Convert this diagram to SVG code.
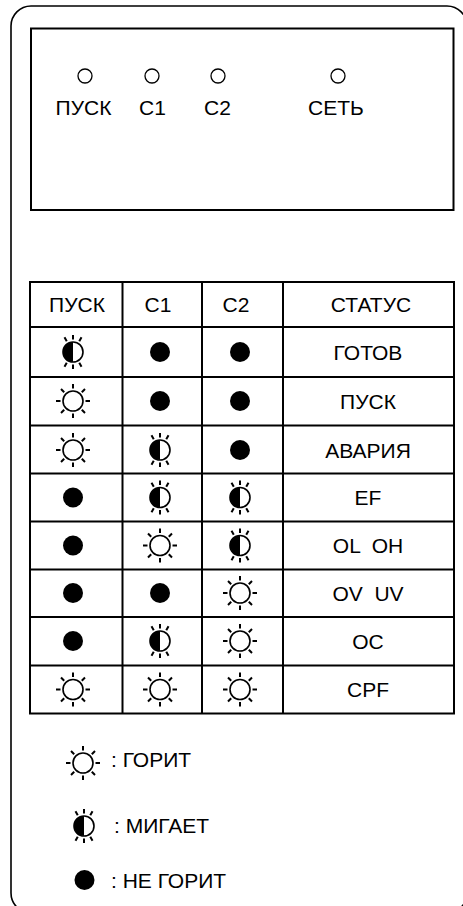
<svg xmlns="http://www.w3.org/2000/svg" width="463" height="906" viewBox="0 0 463 906">
<style>
text{font-family:"Liberation Sans",Arial,sans-serif;font-size:21px;fill:#000}
.c{text-anchor:middle}
.ln{stroke:#000;stroke-width:2;fill:none}
.ray{stroke:#000;stroke-width:2;stroke-linecap:butt}
</style>
<defs>
<g id="sun">
<circle r="10" fill="#fff" stroke="#000" stroke-width="1.6"/>
<g class="ray">
<line x1="12.5" y1="0" x2="17" y2="0"/>
<line x1="-12.5" y1="0" x2="-17" y2="0"/>
<line x1="0" y1="12.5" x2="0" y2="17"/>
<line x1="0" y1="-12.5" x2="0" y2="-17"/>
<line x1="8.8" y1="8.8" x2="12" y2="12"/>
<line x1="-8.8" y1="8.8" x2="-12" y2="12"/>
<line x1="8.8" y1="-8.8" x2="12" y2="-12"/>
<line x1="-8.8" y1="-8.8" x2="-12" y2="-12"/>
</g>
</g>
<g id="blink">
<circle r="10" fill="#fff"/>
<path d="M0,-10 A10,10 0 0 0 0,10 Z" fill="#000"/>
<circle r="10" fill="none" stroke="#000" stroke-width="1.6"/>
<g class="ray">
<line x1="0" y1="12.5" x2="0" y2="17"/>
<line x1="0" y1="-12.5" x2="0" y2="-17"/>
<line x1="6.25" y1="10.8" x2="8.5" y2="14.7"/>
<line x1="-6.25" y1="10.8" x2="-8.5" y2="14.7"/>
<line x1="6.25" y1="-10.8" x2="8.5" y2="-14.7"/>
<line x1="-6.25" y1="-10.8" x2="-8.5" y2="-14.7"/>
</g>
</g>
<circle id="dot" r="10" fill="#000"/>
<circle id="led" r="7" fill="none" stroke="#000" stroke-width="1.3"/>
</defs>
<rect width="463" height="906" fill="#fff"/>
<g id="frame">
<rect x="11" y="6" width="456" height="907" rx="20" ry="20" class="ln" style="stroke-width:1.6"/>
</g>
<g id="display">
<rect x="31" y="28.5" width="422.5" height="181.5" class="ln"/>
<use href="#led" x="85" y="76"/>
<use href="#led" x="152" y="76"/>
<use href="#led" x="218" y="76"/>
<use href="#led" x="338" y="76"/>
<text x="83.5" y="115" class="c">ПУСК</text>
<text x="152.5" y="115" class="c">С1</text>
<text x="217.5" y="115" class="c">С2</text>
<text x="336" y="115" class="c">СЕТЬ</text>
</g>
<g id="table">
<rect x="30" y="282" width="424" height="431.5" class="ln"/>
<g class="ln">
<line x1="122.5" y1="282" x2="122.5" y2="713.5"/>
<line x1="202" y1="282" x2="202" y2="713.5"/>
<line x1="283" y1="282" x2="283" y2="713.5"/>
<line x1="30" y1="327" x2="454" y2="327"/>
<line x1="30" y1="377" x2="454" y2="377"/>
<line x1="30" y1="425.5" x2="454" y2="425.5"/>
<line x1="30" y1="473.5" x2="454" y2="473.5"/>
<line x1="30" y1="521.5" x2="454" y2="521.5"/>
<line x1="30" y1="569.5" x2="454" y2="569.5"/>
<line x1="30" y1="617" x2="454" y2="617"/>
<line x1="30" y1="665.5" x2="454" y2="665.5"/>
</g>
<text x="77" y="312" class="c">ПУСК</text>
<text x="158" y="312" class="c">С1</text>
<text x="236" y="312" class="c">С2</text>
<text x="371" y="312" class="c">СТАТУС</text>
</g>
<g id="row1">
<use href="#blink" x="73" y="352"/><use href="#dot" x="160" y="352"/><use href="#dot" x="240" y="352"/>
<text x="368" y="359.5" class="c">ГОТОВ</text>
</g>
<g id="row2">
<use href="#sun" x="73" y="401"/><use href="#dot" x="160" y="401"/><use href="#dot" x="240" y="401"/>
<text x="368" y="408.5" class="c">ПУСК</text>
</g>
<g id="row3">
<use href="#sun" x="73" y="450"/><use href="#blink" x="160" y="450"/><use href="#dot" x="240" y="450"/>
<text x="368" y="457.5" class="c">АВАРИЯ</text>
</g>
<g id="row4">
<use href="#dot" x="73" y="497.5"/><use href="#blink" x="160" y="497.5"/><use href="#blink" x="240" y="497.5"/>
<text x="368" y="505" class="c">EF</text>
</g>
<g id="row5">
<use href="#dot" x="73" y="545.5"/><use href="#sun" x="160" y="545.5"/><use href="#blink" x="240" y="545.5"/>
<text x="368" y="553" class="c" xml:space="preserve">OL  OH</text>
</g>
<g id="row6">
<use href="#dot" x="73" y="593"/><use href="#dot" x="160" y="593"/><use href="#sun" x="240" y="593"/>
<text x="368" y="600.5" class="c" xml:space="preserve">OV  UV</text>
</g>
<g id="row7">
<use href="#dot" x="73" y="641"/><use href="#blink" x="160" y="641"/><use href="#sun" x="240" y="641"/>
<text x="368" y="648.5" class="c">OC</text>
</g>
<g id="row8">
<use href="#sun" x="73" y="689.5"/><use href="#sun" x="160" y="689.5"/><use href="#sun" x="240" y="689.5"/>
<text x="368" y="697" class="c">CPF</text>
</g>
<g id="legend-on">
<use href="#sun" x="83" y="763"/>
<text x="111" y="767">: ГОРИТ</text>
</g>
<g id="legend-blink">
<use href="#blink" x="84" y="826"/>
<text x="114" y="833">: МИГАЕТ</text>
</g>
<g id="legend-off">
<use href="#dot" x="84.5" y="880"/>
<text x="111" y="888">: НЕ ГОРИТ</text>
</g>
<g id="connectors"/>
</svg>
